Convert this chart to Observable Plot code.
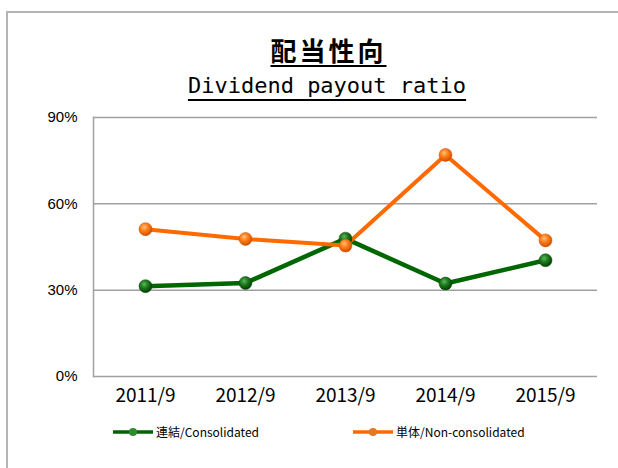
<!DOCTYPE html>
<html>
<head>
<meta charset="utf-8">
<script src="https://cdn.jsdelivr.net/npm/d3@7"></script>
<script src="https://cdn.jsdelivr.net/npm/@observablehq/plot@0.6"></script>
<style>
  body { margin: 0; background: #fff; }
  #wrap { position: relative; width: 618px; height: 468px; overflow: hidden; background: #fff; }
  #border { position: absolute; left: 6px; top: 11px; width: 620px; height: 470px;
            border-top: 2px solid #b4b4b4; border-left: 2px solid #b4b4b4; }
  .t1 { position: absolute; left: 18px; width: 618px; top: 32px; text-align: center;
        font-family: "Noto Sans CJK JP"; font-weight: bold; font-size: 26px; letter-spacing: 3px;
        line-height: 36px; color: #000; }
  .t1 span { text-decoration: underline; text-underline-offset: 4px; text-decoration-thickness: 2px; padding-left: 3px; }
  .t2 { position: absolute; left: 18px; width: 618px; top: 71px; text-align: center;
        font-family: "DejaVu Sans Mono"; font-size: 22px; line-height: 30px; color: #000; }
  .t2 span { text-decoration: underline; text-underline-offset: 6px; text-decoration-thickness: 2px; }
  #chart { position: absolute; left: 0; top: 100px; }
  .leg { position: absolute; top: 424px; font-family: "Noto Sans CJK JP"; font-size: 12px;
         line-height: 16px; color: #000; display: flex; align-items: center; white-space: nowrap; }
  .leg svg { margin-right: 3px; }
</style>
</head>
<body>
<div id="wrap">
  <div id="border"></div>
  <div class="t1"><span>配当性向</span></div>
  <div class="t2"><span>Dividend payout ratio</span></div>
  <div id="chart"></div>
  <div class="leg" style="left:113px;">
    <svg width="40" height="10"><line x1="0" y1="5" x2="40" y2="5" stroke="#006400" stroke-width="3.5"/><circle cx="20" cy="5" r="4" fill="#2e8b2e"/></svg>
    連結/Consolidated
  </div>
  <div class="leg" style="left:353px;">
    <svg width="40" height="10"><line x1="0" y1="5" x2="40" y2="5" stroke="#ff6a00" stroke-width="3.5"/><circle cx="20" cy="5" r="4" fill="#e07a20"/></svg>
    単体/Non-consolidated
  </div>
</div>
<script>
const periods = ["2011/9", "2012/9", "2013/9", "2014/9", "2015/9"];
const consolidated = [31.4, 32.5, 47.9, 32.3, 40.4];
const nonConsolidated = [51.2, 47.8, 45.5, 77.0, 47.3];
const yTicks = [0, 30, 60, 90];
const seriesNames = ["連結/Consolidated", "単体/Non-consolidated"];

const data = [];
periods.forEach((p, i) => {
  data.push({period: p, value: consolidated[i], series: seriesNames[0]});
  data.push({period: p, value: nonConsolidated[i], series: seriesNames[1]});
});
const green = data.filter(d => d.series === seriesNames[0]);
const orange = data.filter(d => d.series === seriesNames[1]);

const plot = Plot.plot({
  width: 618,
  height: 310,
  marginTop: 17,
  marginBottom: 34,
  marginLeft: 93,
  marginRight: 21,
  x: {type: "point", domain: periods, padding: 0.5},
  y: {domain: [0, 90]},
  marks: [
    Plot.ruleY(yTicks, {stroke: "#a0a0a0", strokeWidth: 1.5}),
    Plot.frame({anchor: "left", stroke: "#a0a0a0", strokeWidth: 1.5}),
    Plot.axisY(yTicks, {tickSize: 0, tickPadding: 16, tickFormat: d => d + "%",
      fontSize: 15, fontFamily: "Liberation Sans", fill: "#000", label: null}),
    Plot.axisX({tickSize: 0, tickPadding: 12, fontSize: 19, fontFamily: "Noto Sans CJK JP",
      fill: "#000", label: null}),
    Plot.line(green, {x: "period", y: "value", stroke: "#006600", strokeWidth: 4.5}),
    Plot.line(orange, {x: "period", y: "value", stroke: "#ff6a00", strokeWidth: 4}),
    Plot.dot(green, {x: "period", y: "value", r: 6.5, fill: "url(#gGreen)", stroke: "#0a4a0a", strokeWidth: 0.5}),
    Plot.dot(orange, {x: "period", y: "value", r: 6.5, fill: "url(#gOrange)", stroke: "#c85000", strokeWidth: 0.5})
  ],
  style: {background: "transparent", overflow: "visible"}
});
plot.insertAdjacentHTML("afterbegin", `<defs>
  <radialGradient id="gGreen" cx="40%" cy="35%" r="65%">
    <stop offset="0%" stop-color="#5cb85c"/><stop offset="45%" stop-color="#1f7a1f"/><stop offset="100%" stop-color="#004000"/>
  </radialGradient>
  <radialGradient id="gOrange" cx="40%" cy="35%" r="65%">
    <stop offset="0%" stop-color="#ffc080"/><stop offset="45%" stop-color="#ff7f1a"/><stop offset="100%" stop-color="#d05000"/>
  </radialGradient>
</defs>`);
document.getElementById("chart").appendChild(plot);
</script>
</body>
</html>
